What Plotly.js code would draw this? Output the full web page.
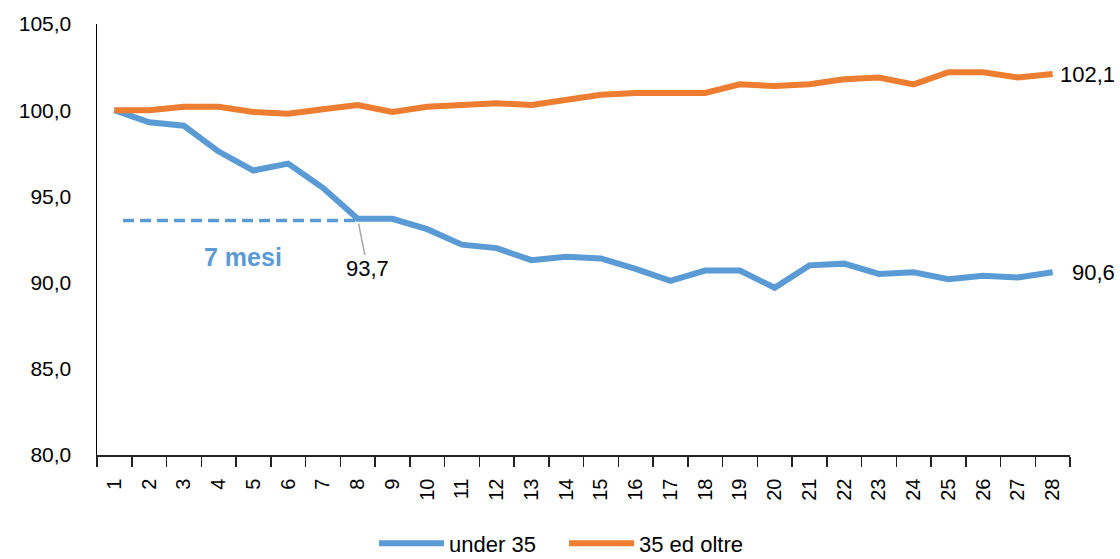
<!DOCTYPE html>
<html>
<head>
<meta charset="utf-8">
<script src="https://cdn.plot.ly/plotly-3.0.1.min.js"></script>
<style>
html,body{margin:0;padding:0;background:#fff;}
#chart{width:1120px;height:559px;}
</style>
</head>
<body>
<div id="chart"></div>
<script>
const months = ['1','2','3','4','5','6','7','8','9','10','11','12','13','14','15','16','17','18','19','20','21','22','23','24','25','26','27','28'];
const under35 = [100.0,99.3,99.1,97.6,96.5,96.9,95.5,93.7,93.7,93.1,92.2,92.0,91.3,91.5,91.4,90.8,90.1,90.7,90.7,89.7,91.0,91.1,90.5,90.6,90.2,90.4,90.3,90.6];
const over35 = [100.0,100.0,100.2,100.2,99.9,99.8,100.05,100.3,99.9,100.2,100.3,100.4,100.3,100.6,100.9,101.0,101.0,101.0,101.5,101.4,101.5,101.8,101.9,101.5,102.2,102.2,101.9,102.1];
const seriesNames = ['under 35','35 ed oltre'];
const colors = ['#5B9BD5','#ED7D31'];
const gapLevel = 93.6;
const gapLabel = '7 mesi';
const gapStartIdx = 0.25;
const gapEndIdx = 7;
const markIdx = 7;

const fmt = v => v.toFixed(1).replace('.', ',');
const FONT = 'Liberation Sans, Arial, sans-serif';

const traces = [
  {x: months, y: under35, name: seriesNames[0], type: 'scatter', mode: 'lines',
   line: {color: colors[0], width: 6}, hoverinfo: 'skip'},
  {x: months, y: over35, name: seriesNames[1], type: 'scatter', mode: 'lines',
   line: {color: colors[1], width: 6}, hoverinfo: 'skip'}
];

const last = months.length - 1;
const layout = {
  width: 1120, height: 559,
  paper_bgcolor: '#fff', plot_bgcolor: '#fff',
  separators: ',.',
  font: {family: FONT, size: 20, color: '#000'},
  margin: {l: 97, r: 50, t: 24, b: 104, autoexpand: false},
  showlegend: true,
  legend: {orientation: 'h', x: 0.48, xanchor: 'center', y: -0.205, yanchor: 'middle',
           font: {family: FONT, size: 22, color: '#000'}, itemwidth: 65, entrywidth: 110},
  xaxis: {
    type: 'category', tickson: 'boundaries', ticks: 'outside', ticklen: 10,
    tickcolor: '#222', tickwidth: 1.5,
    showline: true, linecolor: '#222', linewidth: 1.5,
    showgrid: false, zeroline: false, tickangle: -90,
    ticklabelstandoff: 14,
    tickfont: {family: FONT, size: 20, color: '#000'},
    range: [-0.5, 27.5], fixedrange: true
  },
  yaxis: {
    range: [80, 105], dtick: 5, tickformat: '.1f',
    showline: true, linecolor: '#000', linewidth: 1.5,
    showgrid: false, zeroline: false, ticks: '',
    ticklabelstandoff: 20,
    tickfont: {family: FONT, size: 21, color: '#000'}, fixedrange: true
  },
  shapes: [
    {type: 'line', xref: 'x', yref: 'y', x0: gapStartIdx, x1: gapEndIdx, y0: gapLevel, y1: gapLevel,
     line: {color: colors[0], width: 3.5, dash: '11px,6px'}}
  ],
  annotations: [
    {xref: 'x', yref: 'y', x: (gapStartIdx + gapEndIdx) / 2, y: gapLevel, yshift: -36, xshift: 3,
     text: '<b>' + gapLabel + '</b>', showarrow: false,
     font: {family: FONT, size: 25, color: colors[0]}},
    {xref: 'x', yref: 'y', x: markIdx, y: under35[markIdx], text: fmt(under35[markIdx]),
     showarrow: true, arrowhead: 0, arrowwidth: 1.5, arrowcolor: '#a6a6a6',
     ax: 10, ay: 50, standoff: 5,
     font: {family: FONT, size: 22, color: '#000'}},
    {xref: 'x', yref: 'y', x: last, y: over35[last], text: fmt(over35[last]),
     showarrow: false, xanchor: 'right', xshift: 64,
     font: {family: FONT, size: 22, color: '#000'}},
    {xref: 'x', yref: 'y', x: last, y: under35[last], text: fmt(under35[last]),
     showarrow: false, xanchor: 'right', xshift: 64,
     font: {family: FONT, size: 22, color: '#000'}}
  ]
};

Plotly.newPlot('chart', traces, layout, {displayModeBar: false, staticPlot: true});
</script>
</body>
</html>
